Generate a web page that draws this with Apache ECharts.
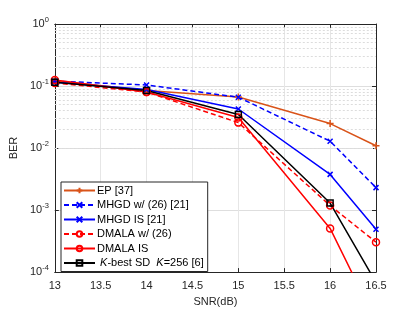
<!DOCTYPE html>
<html><head><meta charset="utf-8">
<script src="https://cdn.jsdelivr.net/npm/echarts@6/dist/echarts.min.js"></script>
<style>html,body{margin:0;padding:0;background:#fff}#c{width:415px;height:312px}</style>
</head><body><div id="c"></div>
<script>
const snr = [13, 14, 15, 16, 16.5];
const ep        = [0.122, 0.085, 0.0667, 0.0248, 0.0109];
const mhgdW     = [0.12, 0.104, 0.066, 0.0129, 0.0023];
const mhgdIS    = [0.115, 0.088, 0.0426, 0.00376, 0.00049];
const dmalaW    = [0.112, 0.08, 0.0257, 0.00118, 0.000304];
const dmalaIS   = [0.125, 0.08, 0.031, 0.000506, 0.000016];
const kbest     = [0.115, 0.085, 0.0347, 0.0013, 0.000068];
const names = ['EP [37]', 'MHGD w/ (26) [21]', 'MHGD IS [21]', 'DMALA w/ (26)', 'DMALA IS', 'K-best SD  K=256 [6]'];
const xTicks = [13, 13.5, 14, 14.5, 15, 15.5, 16, 16.5];

const minorVals = [];
for (let e = -4; e < 0; e++) for (let m = 2; m <= 9; m++) minorVals.push(m * Math.pow(10, e));

const pair = arr => arr.map((v, i) => [snr[i], v]);
const plus = 'path://M0,-1L0,1M-1,0L1,0';
const cross = 'path://M-1,-1L1,1M-1,1L1,-1';
const hollow = 'rgba(0,0,0,0)';
const ORANGE = '#D95319', BLUE = '#0000FF', RED = '#FF0000', BLACK = '#000000';

function mk(name, data, color, dashed, symbol, size) {
  return {
    name, type: 'line', data: pair(data), symbol, symbolSize: size,
    showAllSymbol: true, clip: true,
    lineStyle: { color, width: 1.5, type: dashed ? [5, 3] : 'solid' },
    itemStyle: { color: hollow, borderColor: color, borderWidth: 1.5 },
    z: 5
  };
}

const series = [
  mk(names[0], ep, ORANGE, false, plus, 7),
  mk(names[1], mhgdW, BLUE, true, cross, 5),
  mk(names[2], mhgdIS, BLUE, false, cross, 5),
  mk(names[3], dmalaW, RED, true, 'circle', 7),
  mk(names[4], dmalaIS, RED, false, 'circle', 7),
  mk(names[5], kbest, BLACK, false, 'rect', 6)
];
series[0].markLine = {
  silent: true, symbol: 'none', label: { show: false }, animation: false,
  lineStyle: { color: '#dcdcdc', type: [2, 2], width: 1 },
  data: minorVals.map(v => ({ yAxis: v }))
};

const chart = echarts.init(document.getElementById('c'), null, { renderer: 'canvas' });
const expLabel = v => {
  const e = Math.round(Math.log10(v));
  return '{b|10}{s|' + e + '}';
};
const axisCol = '#262626';
chart.setOption({
  animation: false,
  backgroundColor: '#fff',
  textStyle: { fontFamily: 'Liberation Sans, Arial, sans-serif' },
  grid: { left: 54, right: 39, top: 24, bottom: 34 },
  xAxis: [{
    type: 'value', min: 13, max: 16.5, interval: 0.5,
    axisLine: { lineStyle: { color: axisCol, width: 1 } },
    axisTick: { inside: true, length: 4, lineStyle: { color: axisCol } },
    axisLabel: { color: '#262626', fontSize: 11, margin: 8 },
    splitLine: { show: true, lineStyle: { color: '#e6e6e6', width: 1 } },
    name: 'SNR(dB)', nameLocation: 'middle', nameGap: 21,
    nameTextStyle: { color: '#262626', fontSize: 11 }
  }, {
    type: 'value', min: 13, max: 16.5, interval: 0.5, position: 'top',
    axisLine: { show: true, lineStyle: { color: axisCol, width: 1 } },
    axisTick: { show: true, inside: true, length: 4, lineStyle: { color: axisCol } },
    axisLabel: { show: false }, splitLine: { show: false }
  }],
  yAxis: [{
    type: 'log', logBase: 10, min: 1e-4, max: 1,
    axisLine: { show: true, lineStyle: { color: axisCol, width: 1 } },
    axisTick: { show: true, inside: true, length: 4, lineStyle: { color: axisCol } },
    axisLabel: {
      formatter: expLabel, margin: 6,
      rich: {
        b: { fontSize: 11, color: '#262626', fontFamily: 'Liberation Sans' },
        s: { fontSize: 7.5, color: '#262626', verticalAlign: 'top', padding: [0, 0, 8, 0], fontFamily: 'Liberation Sans' }
      }
    },
    splitLine: { show: true, lineStyle: { color: '#dedede', width: 1 } },
    name: 'BER', nameLocation: 'middle', nameGap: 28,
    nameTextStyle: { color: '#262626', fontSize: 11 }
  }, {
    type: 'log', logBase: 10, min: 1e-4, max: 1, position: 'right',
    axisLine: { show: true, lineStyle: { color: axisCol, width: 1 } },
    axisTick: { show: true, inside: true, length: 4, lineStyle: { color: axisCol } },
    axisLabel: { show: false }, splitLine: { show: false }
  }],
  legend: {
    orient: 'vertical', left: 61, top: 182,
    data: names,
    backgroundColor: '#fff', borderColor: '#262626', borderWidth: 1,
    padding: [2, 4, 2, 2], itemGap: 1.5, itemWidth: 31, itemHeight: 7,
    textStyle: {
      fontSize: 11, lineHeight: 13, color: '#000', padding: [0, 0, 0, -3],
      rich: { i: { fontStyle: 'italic', fontSize: 11, lineHeight: 13, color: '#000' } }
    },
    formatter: n => n === names[5] ? ' {i|K}-best SD  {i|K}=256 [6]' : n
  },
  series
});
</script></body></html>
